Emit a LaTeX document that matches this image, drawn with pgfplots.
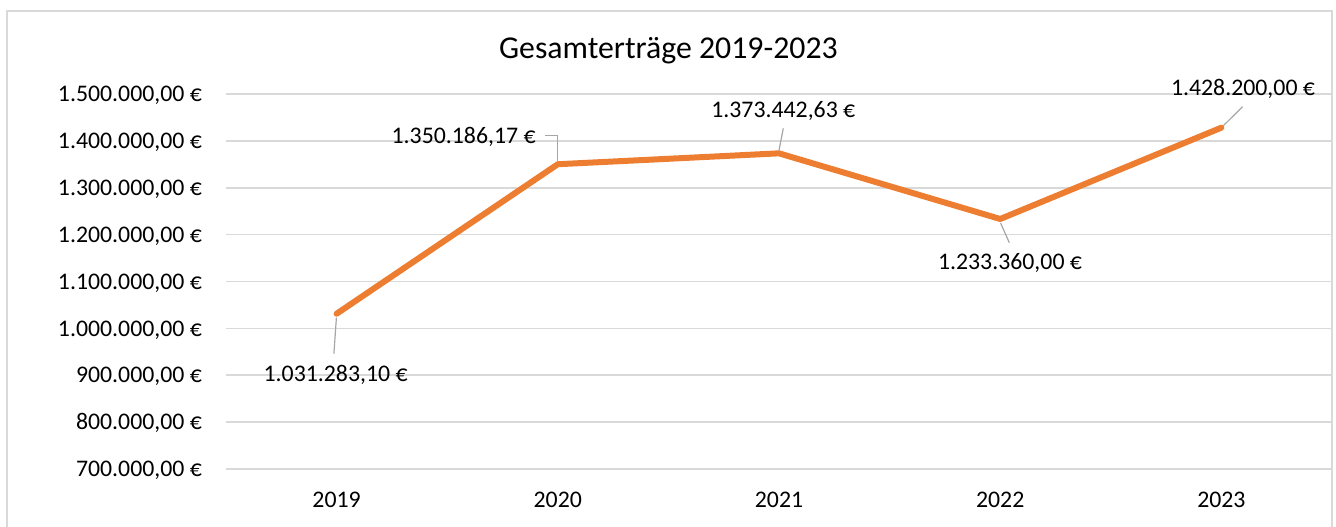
\documentclass[border=0pt]{standalone}
\usepackage{fontspec}
\setmainfont{Carlito}
\usepackage{pgfplots}
\pgfplotsset{compat=1.18}
\definecolor{exorange}{HTML}{ED7D31}
\definecolor{gridgray}{HTML}{D9D9D9}
\definecolor{leadgray}{HTML}{A6A6A6}
\newcommand\lblfont{\fontsize{11.9}{14}\selectfont}
\begin{document}
\begin{tikzpicture}[x=1pt,y=1pt]
\path[use as bounding box] (0,0) rectangle (668,263);
\draw[gridgray, line width=0.75pt] (3.4,-1) -- (3.4,257.6) -- (666,257.6) -- (666,-1);
\node[anchor=base, font=\fontsize{15.9}{19}\selectfont] at (334.2,233.8) {Gesamterträge 2019-2023};
\begin{axis}[
  at={(113pt,28.5pt)}, anchor=south west,
  scale only axis, width=553pt, height=187.5pt,
  xmin=-0.5, xmax=4.5, ymin=700000, ymax=1500000,
  xtick={0,1,2,3,4},
  xticklabels={2019,2020,2021,2022,2023},
  ytick={700000,800000,900000,1000000,1100000,1200000,1300000,1400000,1500000},
  yticklabels={{700.000,00 €},{800.000,00 €},{900.000,00 €},{1.000.000,00 €},{1.100.000,00 €},{1.200.000,00 €},{1.300.000,00 €},{1.400.000,00 €},{1.500.000,00 €}},
  axis line style={draw=none},
  major tick length=0pt,
  tick style={draw=none},
  ymajorgrids,
  grid style={gridgray, line width=0.8pt},
  xticklabel style={anchor=base, inner sep=0pt, yshift=-19.3pt, font=\lblfont},
  yticklabel style={anchor=base east, inner sep=0pt, xshift=-11.85pt, yshift=-3.85pt, font=\lblfont},
  scaled y ticks=false,
  clip=false,
]
\draw[leadgray, line width=0.6pt] (axis cs:0,1031283.10) ++(-0.1pt,-2pt) -- ++(-1.25pt,-18pt);
\draw[leadgray, line width=0.6pt] (axis cs:1,1350186.17) ++(0pt,1.5pt) -- ++(0pt,13pt) -- ++(-6.3pt,0pt);
\draw[leadgray, line width=0.6pt] (axis cs:2,1373442.63) ++(0pt,1.5pt) -- ++(2.15pt,11pt);
\draw[leadgray, line width=0.6pt] (axis cs:3,1233360.00) ++(0.2pt,-2pt) -- ++(4.35pt,-9.85pt);
\draw[leadgray, line width=0.6pt] (axis cs:4,1428200.00) ++(1pt,1pt) -- ++(9.6pt,9.5pt);
\addplot[exorange, line width=3pt, line join=round, line cap=round, mark=none]
  coordinates {(0,1031283.10) (1,1350186.17) (2,1373442.63) (3,1233360.00) (4,1428200.00)};
\node[anchor=base, font=\lblfont, inner sep=0pt, xshift=-0.5pt, yshift=-34pt] at (axis cs:0,1031283.10) {1.031.283,10 €};
\node[anchor=base east, font=\lblfont, inner sep=0pt, xshift=-10.9pt, yshift=10.45pt] at (axis cs:1,1350186.17) {1.350.186,17 €};
\node[anchor=base, font=\lblfont, inner sep=0pt, xshift=2.15pt, yshift=18pt] at (axis cs:2,1373442.63) {1.373.442,63 €};
\node[anchor=base, font=\lblfont, inner sep=0pt, xshift=4.9pt, yshift=-25.5pt] at (axis cs:3,1233360.00) {1.233.360,00 €};
\node[anchor=base, font=\lblfont, inner sep=0pt, xshift=10.8pt, yshift=16.3pt] at (axis cs:4,1428200.00) {1.428.200,00 €};
\end{axis}
\end{tikzpicture}
\end{document}
